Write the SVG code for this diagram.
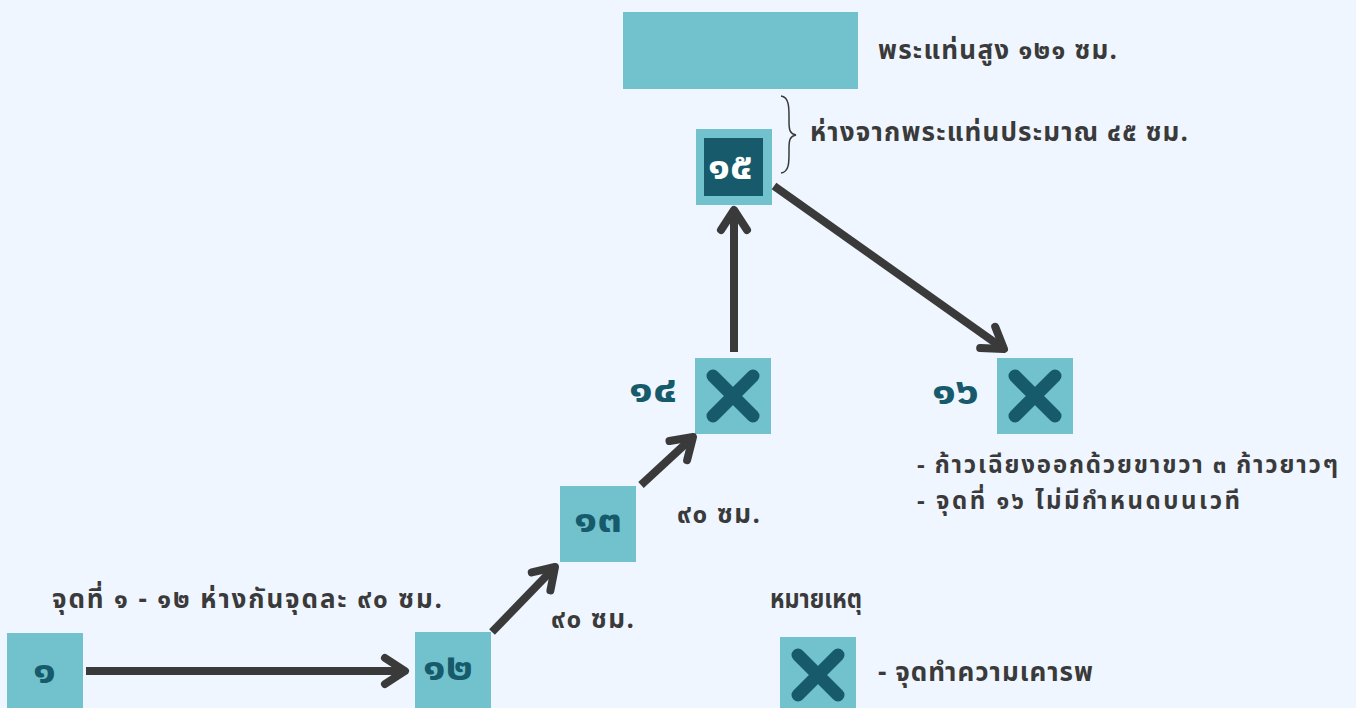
<svg xmlns="http://www.w3.org/2000/svg" width="1356" height="708" viewBox="0 0 1356 708">
<defs>
<style>
.t{font-family:"Noto Sans Thai","Noto Sans","DejaVu Sans",sans-serif;font-weight:bold;fill:#3a3a3a;font-size:26px}
.s{font-size:24px}
.n{font-family:"Noto Sans Thai","Noto Sans","DejaVu Sans",sans-serif;font-weight:bold;fill:#165a6b;font-size:38px}
.box{fill:#71c2cc}
.x{stroke:#165a6b;stroke-width:13;stroke-linecap:round;fill:none}
.c{stroke:#3a3a3a;stroke-width:8;fill:none;marker-end:url(#ah)}
</style>
<marker id="ah" markerUnits="userSpaceOnUse" viewBox="-30 -20 40 40" markerWidth="40" markerHeight="40" refX="0" refY="0" orient="auto">
<path d="M-20,-13 L0,0 L-20,13" fill="none" stroke="#3a3a3a" stroke-width="8" stroke-linecap="round" stroke-linejoin="round"/>
</marker>
</defs>
<rect width="1356" height="708" fill="#eff6ff"/>
<g id="altar">
<rect class="box" x="623" y="12" width="235" height="77"/>
<text class="t" x="878" y="59" textLength="239">พระแท่นสูง ๑๒๑ ซม.</text>
</g>
<g id="brace">
<path d="M781,96 C790,97 789,110 789,122 C789,130 790,134 796,135 C790,136 789,140 789,148 C789,160 790,172 781,173" fill="none" stroke="#3a3a3a" stroke-width="1.5"/>
<text class="t" x="810" y="141" textLength="378">ห่างจากพระแท่นประมาณ ๔๕ ซม.</text>
</g>
<g id="n15">
<rect class="box" x="696" y="129" width="76" height="76"/>
<rect x="704" y="138" width="59" height="58" fill="#165a6b"/>
<text class="n" x="708" y="179" textLength="45" lengthAdjust="spacingAndGlyphs" style="fill:#ffffff">๑๕</text>
</g>
<g id="n14">
<rect class="box" x="695" y="358" width="76" height="76"/>
<path class="x" d="M713,376 L753,416 M753,376 L713,416"/>
<text class="n" x="629" y="402" textLength="48" lengthAdjust="spacingAndGlyphs">๑๔</text>
</g>
<g id="n16">
<rect class="box" x="997" y="358" width="76" height="76"/>
<path class="x" d="M1015,376 L1055,416 M1055,376 L1015,416"/>
<text class="n" x="932" y="404" textLength="47" lengthAdjust="spacingAndGlyphs">๑๖</text>
<text class="t s" x="917" y="473" textLength="421">- ก้าวเฉียงออกด้วยขาขวา ๓ ก้าวยาวๆ</text>
<text class="t s" x="917" y="509" textLength="323">- จุดที่ ๑๖ ไม่มีกำหนดบนเวที</text>
</g>
<g id="n13">
<rect class="box" x="560" y="486" width="76" height="76"/>
<text class="n" x="574" y="532" textLength="48" lengthAdjust="spacingAndGlyphs">๑๓</text>
<text class="t" x="677" y="523" textLength="83">๙๐ ซม.</text>
</g>
<g id="n12">
<rect class="box" x="415" y="632" width="76" height="76"/>
<text class="n" x="423" y="680" textLength="50" lengthAdjust="spacingAndGlyphs">๑๒</text>
<text class="t" x="551" y="628" textLength="83">๙๐ ซม.</text>
</g>
<g id="n1">
<rect class="box" x="7" y="633" width="76" height="75"/>
<text class="n" x="33" y="683" textLength="23" lengthAdjust="spacingAndGlyphs">๑</text>
<text class="t" x="52" y="608" textLength="390">จุดที่ ๑ - ๑๒ ห่างกันจุดละ ๙๐ ซม.</text>
</g>
<g id="legend">
<text class="t" x="770" y="608" textLength="92" lengthAdjust="spacingAndGlyphs">หมายเหตุ</text>
<rect class="box" x="780" y="637" width="76" height="71"/>
<path class="x" d="M798,655 L838,695 M838,655 L798,695"/>
<text class="t" x="878" y="681" textLength="215">- จุดทำความเคารพ</text>
</g>
<g id="connectors">
<path class="c" d="M86,671 L405,671"/>
<path class="c" d="M492,632 L555,567"/>
<path class="c" d="M641,485 L693,437"/>
<path class="c" d="M734,352 L734,210"/>
<path class="c" d="M774,186 L1004,349"/>
</g>
</svg>
